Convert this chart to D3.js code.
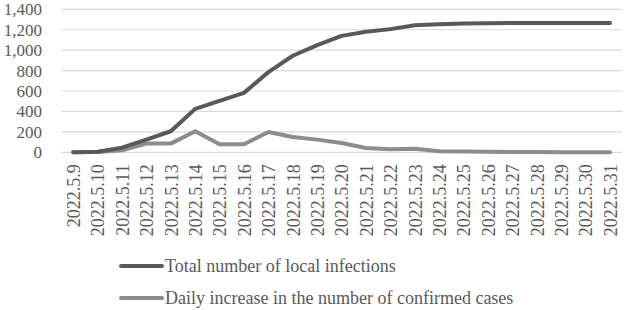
<!DOCTYPE html>
<html>
<head>
<meta charset="utf-8">
<script src="https://cdn.jsdelivr.net/npm/d3@7"></script>
<style>
  body { margin: 0; background: #fff; }
  svg text { font-family: "Liberation Serif", "Times New Roman", Times, "DejaVu Serif", serif !important; fill: #595959; }
</style>
</head>
<body>
<div id="chart"></div>
<script>
// data
var dates = ["2022.5.9","2022.5.10","2022.5.11","2022.5.12","2022.5.13","2022.5.14","2022.5.15",
  "2022.5.16","2022.5.17","2022.5.18","2022.5.19","2022.5.20","2022.5.21","2022.5.22","2022.5.23",
  "2022.5.24","2022.5.25","2022.5.26","2022.5.27","2022.5.28","2022.5.29","2022.5.30","2022.5.31"];
var totalInfections = [0, 5, 45, 125, 206, 425, 503, 582, 785, 945, 1050, 1140, 1180, 1206, 1243,
  1253, 1260, 1264, 1266, 1267, 1267, 1267, 1267];
var dailyIncrease = [0, 3, 20, 85, 85, 206, 78, 78, 199, 150, 124, 91, 42, 29, 35,
  10, 8, 5, 3, 2, 1, 0, 0];
var yTicks = [0, 200, 400, 600, 800, 1000, 1200, 1400];
var seriesNames = ["Total number of local infections", "Daily increase in the number of confirmed cases"];

var w = 624, h = 310;
var svg = d3.select("#chart").append("svg").attr("width", w).attr("height", h);

var x = d3.scalePoint().domain(dates).range([73.2, 610]);
var y = d3.scaleLinear().domain([0, 1400]).range([152.3, 9.3]);
var step = x.step();

// gridlines
svg.append("g").selectAll("line")
  .data(yTicks)
  .enter().append("line")
  .attr("x1", 73.2 - step/2).attr("x2", 610 + step/2)
  .attr("y1", function(d){ return y(d); }).attr("y2", function(d){ return y(d); })
  .attr("stroke", "#d9d9d9").attr("stroke-width", 1.2);

// y labels
var fmt = d3.format(",");
svg.append("g").attr("transform", "translate(42,0)")
  .call(d3.axisLeft(y).tickValues(yTicks).tickFormat(fmt).tickSize(0).tickPadding(0))
  .call(function(g){ g.select(".domain").remove(); g.attr("font-family", null); })
  .selectAll("text")
  .style("font-size", "17px");

// x labels
svg.append("g").attr("transform", "translate(0,152.3)")
  .call(d3.axisBottom(x).tickSize(0))
  .call(function(g){ g.select(".domain").remove(); g.attr("font-family", null); })
  .selectAll("text")
  .attr("transform", "rotate(-90)")
  .attr("x", -12).attr("y", 0).attr("dy", "0.35em")
  .style("text-anchor", "end")
  .style("font-size", "18px");

var line = d3.line()
  .x(function(d, i){ return x(dates[i]); })
  .y(function(d){ return y(d); });

var colors = ["#595959", "#8c8c8c"];
var series = [totalInfections, dailyIncrease];

// draw daily first so total sits on top
[1, 0].forEach(function(k){
  svg.append("path")
    .datum(series[k])
    .attr("d", line)
    .attr("fill", "none")
    .attr("stroke", colors[k])
    .attr("stroke-width", 4)
    .attr("stroke-linejoin", "round")
    .attr("stroke-linecap", "round");
});

// legend
var legend = svg.append("g").selectAll("g")
  .data(seriesNames)
  .enter().append("g")
  .attr("transform", function(d, i){ return "translate(120," + (266 + i*32) + ")"; });
legend.append("line")
  .attr("x1", 1).attr("x2", 42)
  .attr("stroke", function(d, i){ return colors[i]; })
  .attr("stroke-width", 4).attr("stroke-linecap", "round");
legend.append("text")
  .attr("x", 45).attr("dy", "0.35em")
  .style("font-size", "18px")
  .text(function(d){ return d; });
</script>
</body>
</html>
